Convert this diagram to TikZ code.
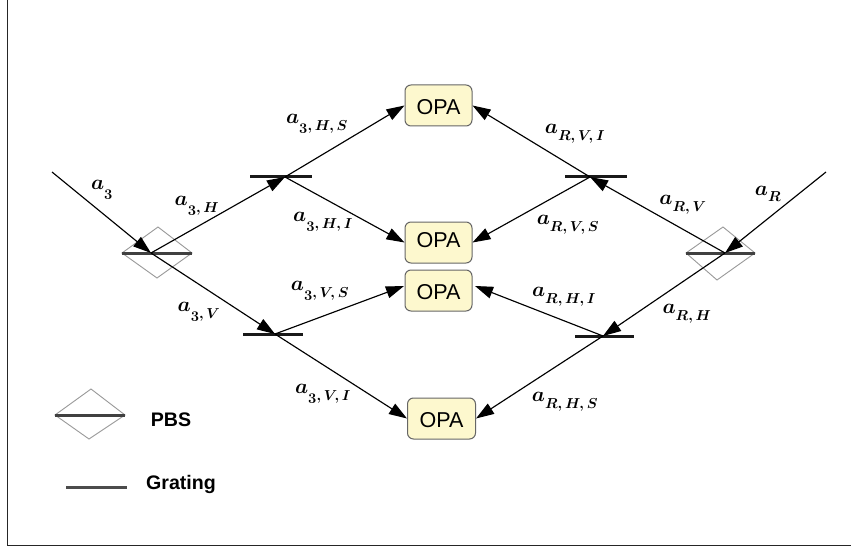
\documentclass[tikz,border=0pt]{standalone}
\usepackage{fontspec}
\setmainfont{Liberation Sans}
\usetikzlibrary{arrows.meta}
\DeclareMathSizes{20}{20}{15}{11}
\newcommand{\BeamLabel}[1]{{\fontsize{20}{24}\selectfont\boldmath$a_{\rule{0pt}{14pt}#1}$}}
\newcommand{\DigitThree}{\mathnormal{3}}
\newcommand{\Sep}{,\mskip 3mu}
\newcommand{\OpaText}[1]{\raisebox{#1}[15pt][0pt]{OPA}}
\definecolor{opafill}{HTML}{FDF8CE}
\tikzset{
  x=1pt,y=-1pt,
  opa/.style={draw=black!60,line width=1pt,fill=opafill,rounded corners=6pt,minimum width=67pt,minimum height=41pt,inner sep=0pt,font=\fontsize{21.5}{24}\selectfont},
  beam/.style={line width=1.15pt,-{Triangle[length=18pt,width=12pt]}},
  gratingbar/.style={line width=3pt,black!90},
  pbsbar/.style={line width=3pt,black!75},
  pbsbox/.style={draw=black!40,line width=0.9pt},
  legendtext/.style={font=\fontsize{19.6}{24}\selectfont\bfseries,inner sep=0pt},
  labeltext/.style={inner sep=0pt}
}
\begin{document}
\begin{tikzpicture}
\useasboundingbox (0,0) rectangle (851,548);
\fill[white] (0,0) rectangle (851,548);
\coordinate (fl) at (7,0);
\coordinate (fc) at (7,545);
\coordinate (fr) at (851,545);
\draw[line width=1pt,black!85] (fl) -- (fc) -- (fr);

% OPAs
\node[opa] (o1) at (438.5,105.5) {\OpaText{-2pt}};
\node[opa] (o2) at (438.5,242.5) {\OpaText{2pt}};
\node[opa] (o3) at (438.5,290.5) {\OpaText{-1.5pt}};
\node[opa,minimum width=68pt] (o4) at (441.5,418.5) {\OpaText{-1.5pt}};
\coordinate (o3w) at (404,286);
\coordinate (o3e) at (475,286);

% PBS left
\coordinate (pl) at (157,253);
\coordinate (plw) at (122,253);
\coordinate (ple) at (192,253);
\coordinate (plt) at (158,227);
\coordinate (plb) at (157,278);
\draw[pbsbox] (plw) -- (plt) -- (ple) -- (plb) -- cycle;
\draw[pbsbar] (plw) -- (ple);
% PBS right
\coordinate (pr) at (725,253);
\coordinate (prw) at (686,253);
\coordinate (pre) at (755,253);
\coordinate (prt) at (723,227);
\coordinate (prb) at (717,280);
\draw[pbsbox] (prw) -- (prt) -- (pre) -- (prb) -- cycle;
\draw[pbsbar] (prw) -- (pre);

% Gratings
\coordinate (g1) at (285,177);
\coordinate (g1w) at (250,177);
\coordinate (g1e) at (312,177);
\coordinate (g2) at (275,334);
\coordinate (g2w) at (243,334);
\coordinate (g2e) at (303,334);
\coordinate (g3) at (590,177);
\coordinate (g3w) at (565,177);
\coordinate (g3e) at (627,177);
\coordinate (g4) at (603,336);
\coordinate (g4w) at (575,336);
\coordinate (g4e) at (634,336);
\draw[gratingbar] (g1w) -- (g1e);
\draw[gratingbar] (g2w) -- (g2e);
\draw[gratingbar] (g3w) -- (g3e);
\draw[gratingbar] (g4w) -- (g4e);

% Beams
\coordinate (pla) at (151,253);
\coordinate (sl) at (52,172);
\coordinate (sr) at (826,172);
\draw[beam] (sl) -- (pla);
\draw[beam] (sr) -- (pr);
\draw[beam] (pla) -- (g1);
\draw[beam] (pla) -- (g2);
\draw[beam] (pr) -- (g3);
\draw[beam] (pr) -- (g4);
\draw[beam] (g1) -- (o1.west);
\draw[beam] (g1) -- (o2.west);
\draw[beam] (g2) -- (o3w);
\draw[beam] (g2) -- (o4.west);
\draw[beam] (g3) -- (o1.east);
\draw[beam] (g3) -- (o2.east);
\draw[beam] (g4) -- (o3e);
\draw[beam] (g4) -- (o4.east);

% Labels
\node[labeltext] (t1) at (102,190) {\BeamLabel{\DigitThree}};
\node[labeltext] (t2) at (197,206) {\BeamLabel{\DigitThree\Sep H}};
\node[labeltext] (t3) at (199,312) {\BeamLabel{\DigitThree\Sep V}};
\node[labeltext] (t4) at (317,124) {\BeamLabel{\DigitThree\Sep H\Sep S}};
\node[labeltext] (t5) at (323,222) {\BeamLabel{\DigitThree\Sep H\Sep I}};
\node[labeltext] (t6) at (320,291) {\BeamLabel{\DigitThree\Sep V\Sep S}};
\node[labeltext] (t7) at (323,394) {\BeamLabel{\DigitThree\Sep V\Sep I}};
\node[labeltext] (t8) at (575,134) {\BeamLabel{R\Sep V\Sep I}};
\node[labeltext] (t9) at (568,225) {\BeamLabel{R\Sep V\Sep S}};
\node[labeltext] (t10) at (683,205) {\BeamLabel{R\Sep V}};
\node[labeltext] (t11) at (768,194) {\BeamLabel{R}};
\node[labeltext] (t12) at (687,314) {\BeamLabel{R\Sep H}};
\node[labeltext] (t13) at (564,297) {\BeamLabel{R\Sep H\Sep I}};
\node[labeltext] (t14) at (565,402) {\BeamLabel{R\Sep H\Sep S}};

% Legend
\coordinate (kw) at (55,415);
\coordinate (ke) at (125,415);
\coordinate (kt) at (91,389);
\coordinate (kb) at (89,439);
\draw[pbsbox] (kw) -- (kt) -- (ke) -- (kb) -- cycle;
\draw[pbsbar] (kw) -- (ke);
\coordinate (gw) at (66,487);
\coordinate (ge) at (127,487);
\draw[gratingbar,black!70] (gw) -- (ge);
\node[legendtext] (kp) at (171,420) {PBS};
\node[legendtext] (kg) at (181,484) {Grating};
\end{tikzpicture}
\end{document}
